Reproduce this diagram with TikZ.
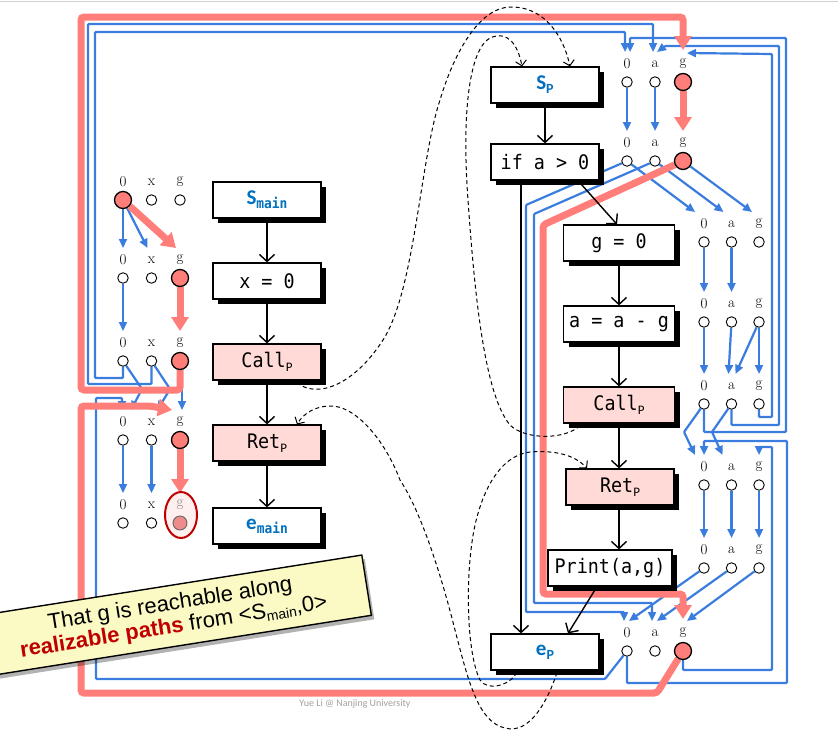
\documentclass[tikz,border=0pt]{standalone}
\usepackage{fontspec}
\newfontfamily\monof[FakeStretch=0.92]{DejaVu Sans Mono}
\newfontfamily\calib{Carlito}
\newfontfamily\arialf{Liberation Sans}
\usetikzlibrary{arrows.meta,shadows,shapes.geometric}
\definecolor{eblue}{RGB}{58,125,222}
\definecolor{ered}{RGB}{255,126,121}
\definecolor{sblue}{RGB}{0,112,192}
\definecolor{dred}{RGB}{192,0,0}
\definecolor{boxpink}{RGB}{255,218,214}
\definecolor{noteyel}{RGB}{252,250,196}
\definecolor{hlfill}{RGB}{255,240,240}
\definecolor{gcirc}{RGB}{238,140,140}
\pgfdeclarelayer{bg}
\pgfsetlayers{bg,main}
\newcommand\cfgtxt[1]{{\monof\fontsize{20}{20}\selectfont #1}}
\newcommand\subP{\raisebox{-3.5pt}{\calib\fontsize{13}{13}\selectfont P}}
\newcommand\bigS[2]{\textcolor{sblue}{\calib\bfseries\fontsize{21}{21}\selectfont #1\raisebox{-4pt}{#2}}}
\newcommand\subPb{\calib\bfseries\fontsize{14}{14}\selectfont P}
\newcommand\subMain{\monof\bfseries\fontsize{14}{14}\selectfont main}
% #1 name, #2 y, #3 x0, #4 dx, #5 var1, #6 var2, #7 st0, #8 st1, #9 st2
\newcommand\dfrow[9]{%
 \node[dfl] (#1-l0) at (#3,#2-18) {0};
 \node[dfl] (#1-l1) at (#3+#4,#2-18) {#5};
 \node[dfl] (#1-l2) at (#3+2*#4,#2-18) {#6};
 \node[dfc,#7] (#1-0) at (#3,#2) {};
 \node[dfc,#8] (#1-1) at (#3+#4,#2) {};
 \node[dfc,#9] (#1-2) at (#3+2*#4,#2) {};
 \coordinate (#1-t0) at (#3,#2-30);
 \coordinate (#1-t1) at (#3+#4,#2-30);
 \coordinate (#1-t2) at (#3+2*#4,#2-30);
}
\begin{document}
\begin{tikzpicture}[x=1pt,y=-1pt,
  box/.style={draw, line width=1.2pt, fill=white, minimum width=108pt, minimum height=36pt, inner sep=0pt,
    drop shadow={shadow xshift=5pt, shadow yshift=-5pt, opacity=1, fill=black}},
  pbox/.style={box, fill=boxpink},
  dfl/.style={inner sep=0pt, font=\fontsize{15}{15}\selectfont},
  dfc/.style={circle, draw, fill=white, line width=0.9pt, minimum size=10.5pt, inner sep=0pt},
  dfr/.style={minimum size=17pt, fill=ered, line width=1.3pt},
  eb/.style={draw=eblue, line width=2.2pt, -{Triangle[length=9pt,width=8pt]}, rounded corners=1pt},
  er/.style={draw=ered, line width=7pt, -{Triangle[length=14pt,width=17pt]}, rounded corners=3pt},
  cf/.style={draw, line width=1.4pt, -{Straight Barb[length=7pt,width=15pt]}},
  dsh/.style={draw, dash pattern=on 4pt off 3pt, line width=1pt, -{Straight Barb[length=5pt,width=11pt]}},
  note/.style={draw, line width=1.4pt, fill=noteyel, minimum width=394pt, minimum height=61pt, align=center,
    inner sep=2pt, font=\arialf\fontsize{22}{23}\selectfont,
    drop shadow={shadow xshift=3pt, shadow yshift=-4pt, fill=black, opacity=0.3}}
]
\useasboundingbox (0,0) rectangle (838,729);
\draw[gray!35, line width=1pt] (0,1) -- (838,1);

% ---------- CFG boxes: main ----------
\node[box] (Sm) at (267,200) {\bigS{S}{\subMain}};
\node[box] (Xm) at (267,281) {\cfgtxt{x = 0}};
\node[pbox] (Cm) at (267,362) {\cfgtxt{Call}\subP};
\node[pbox] (Rm) at (267,443) {\cfgtxt{Ret}\subP};
\node[box] (Em) at (267,526) {\bigS{e}{\subMain}};

% ---------- CFG boxes: P ----------
\node[box] (Sp) at (545,85) {\bigS{S}{\subPb}};
\node[box] (If) at (545,162) {\cfgtxt{if a > 0}};
\node[box, minimum width=111pt] (Gz) at (619,243) {\cfgtxt{g = 0}};
\node[box, minimum width=111pt] (Aa) at (619,324) {\cfgtxt{a = a - g}};
\node[pbox, minimum width=111pt] (Cp) at (619,405) {\cfgtxt{Call}\subP};
\node[pbox] (Rp) at (620,487) {\cfgtxt{Ret}\subP};
\node[box, minimum width=124pt] (Pr) at (610,568) {\cfgtxt{Print(a,g)}};
\node[box] (Ep) at (545,652) {\bigS{e}{\subPb}};

% ---------- exploded nodes ----------
\dfrow{L1}{200}{123}{28.5}{x}{g}{dfr}{}{}
\dfrow{L2}{278}{123}{28.5}{x}{g}{}{}{dfr}
\dfrow{L3}{361}{123}{28.5}{x}{g}{}{}{dfr}
\dfrow{L4}{440}{123}{28.5}{x}{g}{}{}{dfr}
\node[ellipse, draw=dred, line width=2pt, fill=hlfill, minimum width=32pt, minimum height=46pt, inner sep=0pt] (hl) at (181,515) {};
\node[dfl] (L5-l0) at (123,505) {0};
\node[dfl] (L5-l1) at (151.5,505) {x};
\node[dfl, text=gray] (L5-l2) at (180,505) {g};
\node[dfc] (L5-0) at (123,523) {};
\node[dfc] (L5-1) at (151.5,523) {};
\node[dfc, minimum size=14pt, fill=gcirc, draw=black!60] (L5-2) at (180,523) {};
\coordinate (L5-t0) at (123,493);
\coordinate (L5-t1) at (151.5,493);
\coordinate (L5-t2) at (180,493);

\dfrow{S}{82}{627}{28}{a}{g}{}{}{dfr}
\dfrow{I}{161}{627}{28}{a}{g}{}{}{dfr}
\dfrow{G}{242}{704}{27.5}{a}{g}{}{}{}
\dfrow{A}{322}{704}{27.5}{a}{g}{}{}{}
\dfrow{C}{404}{704}{27.5}{a}{g}{}{}{}
\dfrow{R}{485}{704}{27.5}{a}{g}{}{}{}
\dfrow{P}{568}{704}{27.5}{a}{g}{}{}{}
\dfrow{E}{651}{627}{28}{a}{g}{}{}{dfr}

\begin{pgfonlayer}{bg}
% ----- blue edges, main -----
\draw[eb] (L1-0) -- (L2-t0);
\draw[eb] (L1-0) -- ([xshift=-4pt]L2-t1);
\draw[eb] (L2-0) -- (L3-t0);
\draw[eb] (L3-0) -- (123,378) -- (95,378) -- (95,32) -- (625,32) -- ([xshift=-2pt]S-t0);
\draw[eb] (L3-1) -- (151.5,384) -- (88,384) -- (88,24) -- (653,24) -- ([xshift=-2pt]S-t1);
\draw[eb] (L3-0) -- (142,389) -- ([xshift=8pt]L4-t0);
\draw[eb] (L3-1) -- (170,389) -- ([xshift=6pt]L4-t1);
\draw[eb] ([xshift=2pt]L3-2.south) -- ([xshift=2pt]L4-t2);
\draw[eb] (E-0) -- (605,679) -- (96,679) -- (96,398) -- (122,398) -- ([xshift=-1pt]L4-t0);
\draw[eb] (L4-0) -- (L5-t0);
\draw[eb] (L4-1) -- (L5-t1);
% ----- blue edges, P -----
\draw[eb] (S-0) -- (I-t0);
\draw[eb] (S-1) -- (I-t1);
\draw[eb] (I-0) -- ([xshift=-9pt]G-t0);
\draw[eb] (I-1) -- ([xshift=-8pt]G-t1);
\draw[eb] (I-2) -- ([xshift=-7pt]G-t2);
\draw[eb] (I-0) -- (526,205) -- (526,612) -- (624,612) -- ([xshift=-3pt]E-t0);
\draw[eb] (I-1) -- (534,214) -- (534,603) -- (652,603) -- ([xshift=-3pt]E-t1);
\draw[eb] (G-0) -- (A-t0);
\draw[eb] (G-1) -- (A-t1);
\draw[eb] (A-0) -- (C-t0);
\draw[eb] (A-1) -- ([xshift=-3pt]C-t1);
\draw[eb] (A-2) -- ([xshift=4pt]C-t1);
\draw[eb] (A-2) -- (C-t2);
\draw[eb] (C-2) -- (759,417) -- (772,417) -- (772,54) -- ([xshift=4pt,yshift=-1pt]S-t2);
\draw[eb] (C-1) -- (731.5,425) -- (779,425) -- (779,46) -- (665,46) -- ([xshift=2pt]S-t1);
\draw[eb] (C-0) -- (704,432) -- (786,432) -- (786,38) -- (630,38) -- ([xshift=3pt]S-t0);
\draw[eb] (C-0) -- (684,432) -- ([xshift=-9pt]R-t0);
\draw[eb] (C-1) -- (712,432) -- ([xshift=-9pt]R-t1);
\draw[eb] (E-0) -- (627,683) -- (787,683) -- (787,441) -- (704,441) -- (R-t0);
\draw[eb] (E-2) -- (683,670) -- (772,670) -- (772,447) -- (759,447) -- (R-t2);
\draw[eb] (R-0) -- (P-t0);
\draw[eb] (R-1) -- (P-t1);
\draw[eb] (R-2) -- (P-t2);
\draw[eb] (P-0) -- ([xshift=2pt]E-t0);
\draw[eb] (P-1) -- ([xshift=2pt]E-t1);
\draw[eb] (P-2) -- ([xshift=4pt]E-t2);
% ----- red path -----
\draw[er] (L1-0) -- ([xshift=-4pt]L2-t2);
\draw[er] (L2-2) -- (L3-t2);
\draw[er] (L3-2) -- (180,390) -- (81,390) -- (81,17) -- (683,17) -- ([yshift=2pt]S-t2);
\draw[er] (S-2) -- (I-t2);
\draw[er] (I-2) -- (543,225) -- (543,594) -- (683,594) -- ([yshift=2pt]E-t2);
\draw[er] (E-2) -- (657,693) -- (81,693) -- (81,406) -- (150,406) -- ([xshift=-8pt]L4-t2);
\draw[er] (L4-2) -- (L5-t2);
\end{pgfonlayer}

% ---------- CFG edges ----------
\draw[cf] (Sm.south) -- (Xm.north);
\draw[cf] (Xm.south) -- (Cm.north);
\draw[cf] (Cm.south) -- (Rm.north);
\draw[cf] (Rm.south) -- (Em.north);
\draw[cf] (Sp.south) -- (If.north);
\draw[cf] ([xshift=33pt]If.south) -- ([xshift=-2pt]Gz.north);
\draw[cf] ([xshift=-24pt]If.south) -- ([xshift=-24pt]Ep.north);
\draw[cf] (Gz.south) -- (Aa.north);
\draw[cf] (Aa.south) -- (Cp.north);
\draw[cf] (Cp.south) -- (Cp.south |- Rp.north);
\draw[cf] (Cp.south |- Rp.south) -- (Cp.south |- Pr.north);
\draw[cf] ([xshift=-13pt]Pr.south) -- ([xshift=23pt]Ep.north);

% ---------- call / return dashed edges ----------
\coordinate (cA0) at ([xshift=30pt,yshift=-2pt]Cm.south);
\coordinate (cA1) at ([xshift=25pt]Sp.north);
\draw[dsh] (cA0) .. controls (315,398) and (352,388) .. (383,340)
  .. controls (415,290) and (420,160) .. (440,100)
  .. controls (455,50) and (480,8) .. (510,7)
  .. controls (540,6) and (562,30) .. (cA1);
\coordinate (cB0) at ([xshift=-39pt,yshift=-2pt]Cp.south);
\coordinate (cB1) at ([xshift=-23pt]Sp.north);
\draw[dsh] (cB0) .. controls (565,440) and (525,440) .. (510,425)
  .. controls (485,395) and (475,300) .. (468,200)
  .. controls (462,120) and (468,50) .. (490,38)
  .. controls (508,30) and (518,45) .. (cB1);
\coordinate (cC0) at ([xshift=12pt,yshift=-2pt]Ep.south);
\coordinate (cC1) at ([xshift=30pt]Rm.north);
\draw[dsh] (cC0) .. controls (548,700) and (530,735) .. (505,728)
  .. controls (478,722) and (468,680) .. (455,630)
  .. controls (440,570) and (420,510) .. (400,480)
  .. controls (385,440) and (355,405) .. (330,406)
  .. controls (315,406) and (303,414) .. (cC1);
\coordinate (cD0) at ([xshift=-28pt,yshift=-2pt]Ep.south);
\coordinate (cD1) at ([xshift=-33pt]Rp.north);
\draw[dsh] (cD0) .. controls (510,685) and (488,692) .. (480,680)
  .. controls (465,650) and (465,560) .. (477,517)
  .. controls (487,480) and (505,455) .. (530,452)
  .. controls (555,450) and (575,455) .. (cD1);

% ---------- callout and footer ----------
\node[note, rotate=9] (nt) at (172,616) {That g is reachable along\\\textcolor{dred}{\bfseries realizable paths} from <S\raisebox{-3pt}{\fontsize{14}{14}\selectfont main},0>};
\node[text=gray!75, font=\calib\fontsize{10}{10}\selectfont] (ft) at (355,704) {Yue Li @ Nanjing University};
\end{tikzpicture}
\end{document}
